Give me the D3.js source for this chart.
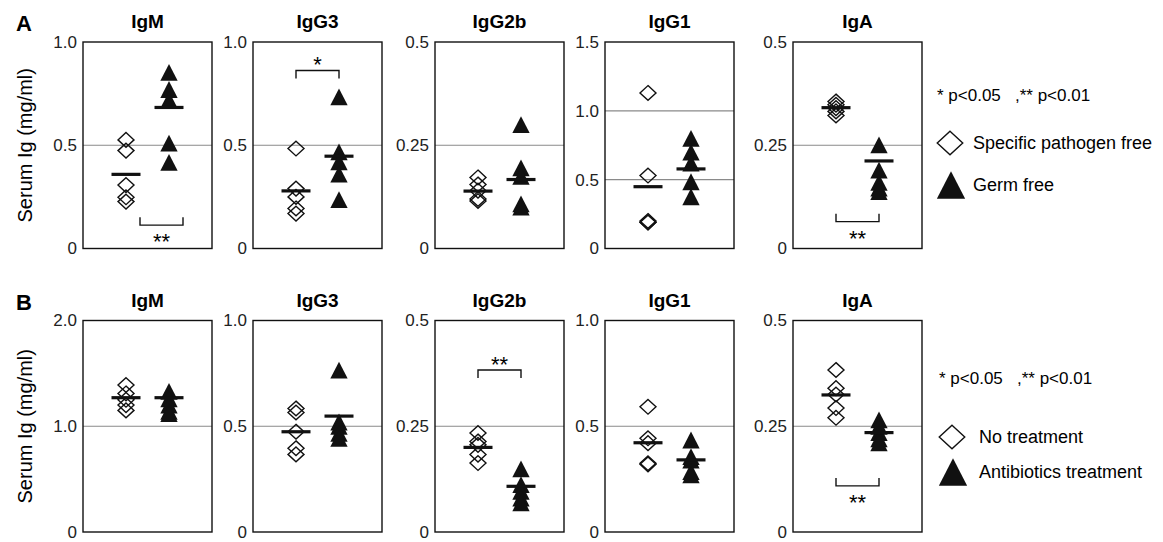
<!DOCTYPE html>
<html>
<head>
<meta charset="utf-8">
<script src="https://cdn.jsdelivr.net/npm/d3@7"></script>
<style>
body { margin: 0; background: #fff; }
svg { display: block; font-family: "Liberation Sans", Arial, Helvetica, sans-serif; }
</style>
</head>
<body>
<div id="chart"></div>
<script>
// ---- data ----
const isotypes = ["IgM", "IgG3", "IgG2b", "IgG1", "IgA"];
const groupsA = ["Specific pathogen free", "Germ free"];
const groupsB = ["No treatment", "Antibiotics treatment"];
const pNote = "* p<0.05   ,** p<0.01";

const yMaxA = [1.0, 1.0, 0.5, 1.5, 0.5];
const yMaxB = [2.0, 1.0, 0.5, 1.0, 0.5];
const ticksA = [[0, 0.5, 1.0], [0, 0.5, 1.0], [0, 0.25, 0.5], [0, 0.5, 1.0, 1.5], [0, 0.25, 0.5]];
const ticksB = [[0, 1.0, 2.0], [0, 0.5, 1.0], [0, 0.25, 0.5], [0, 0.5, 1.0], [0, 0.25, 0.5]];
const tickLabelsA = [["0", "0.5", "1.0"], ["0", "0.5", "1.0"], ["0", "0.25", "0.5"], ["0", "0.5", "1.0", "1.5"], ["0", "0.25", "0.5"]];
const tickLabelsB = [["0", "1.0", "2.0"], ["0", "0.5", "1.0"], ["0", "0.25", "0.5"], ["0", "0.5", "1.0"], ["0", "0.25", "0.5"]];

// A: specific pathogen free vs germ free
const spfA = [
    [0.526, 0.474, 0.307, 0.248, 0.227],
    [0.484, 0.29, 0.25, 0.194, 0.169],
    [0.172, 0.155, 0.14, 0.12, 0.115],
    [1.13, 0.53, 0.20, 0.19, 0.19],
    [0.356, 0.348, 0.34, 0.332, 0.322]
];
const gfA = [
    [0.853, 0.77, 0.72, 0.51, 0.417],
    [0.734, 0.468, 0.42, 0.36, 0.237],
    [0.30, 0.195, 0.175, 0.108, 0.10],
    [0.80, 0.70, 0.62, 0.485, 0.376],
    [0.251, 0.19, 0.16, 0.146, 0.138]
];
const spfMeanA = [0.359, 0.279, 0.139, 0.449, 0.341];
const gfMeanA = [0.683, 0.447, 0.167, 0.578, 0.212];

// B: no treatment vs antibiotics treatment
const ntB = [
    [1.39, 1.31, 1.25, 1.2, 1.15],
    [0.584, 0.565, 0.474, 0.396, 0.367],
    [0.234, 0.214, 0.206, 0.183, 0.163],
    [0.592, 0.443, 0.42, 0.325, 0.32],
    [0.383, 0.34, 0.325, 0.293, 0.27]
];
const abB = [
    [1.33, 1.26, 1.2, 1.14, 1.12],
    [0.765, 0.52, 0.5, 0.466, 0.443],
    [0.149, 0.112, 0.096, 0.08, 0.069],
    [0.435, 0.356, 0.34, 0.286, 0.27],
    [0.265, 0.25, 0.235, 0.22, 0.211]
];
const ntMeanB = [1.27, 0.474, 0.2, 0.422, 0.324];
const abMeanB = [1.27, 0.548, 0.108, 0.341, 0.235];

// significance brackets: panel index, level (data units), stars, side of the stars
const sigA = [
    { panel: 0, y: 0.113, stars: "**", side: "below" },
    { panel: 1, y: 0.862, stars: "*", side: "above" },
    { panel: 4, y: 0.065, stars: "**", side: "below" }
];
const sigB = [
    { panel: 2, y: 0.383, stars: "**", side: "above" },
    { panel: 4, y: 0.109, stars: "**", side: "below" }
];

// ---- layout ----
const W = 1163, H = 542;
const panelLefts = [83, 253, 435, 605, 793];
const panelW = 129;
const rows = [
    { letter: "A", top: 42, bottom: 248.5, yMax: yMaxA, ticks: ticksA, labels: tickLabelsA,
      g1: spfA, g2: gfA, m1: spfMeanA, m2: gfMeanA, sig: sigA, groups: groupsA,
      legend: { x: 937, note: 95, diamond: 143, tri: 185, textX: 973 },
      bracketShift: [14, 0, 0, 0, 0] },
    { letter: "B", top: 320.5, bottom: 532, yMax: yMaxB, ticks: ticksB, labels: tickLabelsB,
      g1: ntB, g2: abB, m1: ntMeanB, m2: abMeanB, sig: sigB, groups: groupsB,
      legend: { x: 939, note: 378, diamond: 437, tri: 472, textX: 979 },
      bracketShift: [0, 0, 0, 0, 0] }
];

const diamondType = {
    draw(ctx, size) {
        const r = Math.sqrt(size) / 2;
        ctx.moveTo(0, -r * 0.92); ctx.lineTo(r, 0); ctx.lineTo(0, r * 0.92); ctx.lineTo(-r, 0); ctx.closePath();
    }
};
const triType = {
    draw(ctx, size) {
        const s = Math.sqrt(size), h = s * 0.97;
        ctx.moveTo(0, -h / 2); ctx.lineTo(s / 2, h / 2); ctx.lineTo(-s / 2, h / 2); ctx.closePath();
    }
};

const svg = d3.select("#chart").append("svg")
    .attr("width", W)
    .attr("height", H);

rows.forEach(row => {
    // panel letter
    svg.append("text")
        .attr("x", 16)
        .attr("y", row.top - 11)
        .style("font-size", "22px")
        .style("font-weight", "bold")
        .text(row.letter);

    // y label
    svg.append("text")
        .attr("transform", `translate(32, ${(row.top + row.bottom) / 2}) rotate(-90)`)
        .attr("text-anchor", "middle")
        .style("font-size", "20px")
        .text("Serum Ig (mg/ml)");

    isotypes.forEach((iso, i) => {
        const g = svg.append("g")
            .attr("transform", `translate(${panelLefts[i]}, ${row.top})`);
        const h = row.bottom - row.top;

        const y = d3.scaleLinear().domain([0, row.yMax[i]]).range([h, 0]);
        const x = d3.scalePoint().domain(row.groups).range([0, panelW]).padding(1);

        // gridlines at inner ticks
        g.selectAll(".grid")
            .data(row.ticks[i].filter(t => t > 0 && t < row.yMax[i]))
            .enter()
            .append("line")
            .attr("class", "grid")
            .attr("x1", 0)
            .attr("x2", panelW)
            .attr("y1", d => y(d))
            .attr("y2", d => y(d))
            .attr("stroke", "#8a8a8a")
            .attr("stroke-width", 1.2);

        // axis labels
        const labels = row.labels[i];
        const ax = g.append("g")
            .call(d3.axisLeft(y)
                .tickValues(row.ticks[i])
                .tickFormat((d, k) => labels[k])
                .tickSize(0)
                .tickPadding(6));
        ax.select(".domain").remove();
        ax.selectAll("text")
            .style("font-size", "17px")
            .style("font-family", "\"Liberation Sans\", Arial, sans-serif")
            .attr("fill", "#222");

        // frame
        g.append("rect")
            .attr("x", 0)
            .attr("y", 0)
            .attr("width", panelW)
            .attr("height", h)
            .attr("fill", "none")
            .attr("stroke", "#111")
            .attr("stroke-width", 1.4);

        // title
        g.append("text")
            .attr("x", panelW / 2)
            .attr("y", -14)
            .attr("text-anchor", "middle")
            .style("font-size", "19px")
            .style("font-weight", "bold")
            .text(iso);

        // points
        g.selectAll(".g1")
            .data(row.g1[i])
            .enter()
            .append("path")
            .attr("class", "g1")
            .attr("transform", d => `translate(${x(row.groups[0])}, ${y(d)})`)
            .attr("d", d3.symbol().type(diamondType).size(256))
            .attr("fill", "none")
            .attr("stroke", "#111")
            .attr("stroke-width", 1.4);

        g.selectAll(".g2")
            .data(row.g2[i])
            .enter()
            .append("path")
            .attr("class", "g2")
            .attr("transform", d => `translate(${x(row.groups[1])}, ${y(d)})`)
            .attr("d", d3.symbol().type(triType).size(300))
            .attr("fill", "#111");

        // mean bars
        g.selectAll(".mean")
            .data([[row.groups[0], row.m1[i]], [row.groups[1], row.m2[i]]])
            .enter()
            .append("line")
            .attr("class", "mean")
            .attr("x1", d => x(d[0]) - 14.5)
            .attr("x2", d => x(d[0]) + 14.5)
            .attr("y1", d => y(d[1]))
            .attr("y2", d => y(d[1]))
            .attr("stroke", "#111")
            .attr("stroke-width", 3.2);

        // significance brackets
        row.sig.filter(s => s.panel === i).forEach(s => {
            const shift = row.bracketShift[i];
            const x1 = x(row.groups[0]) + shift, x2 = x(row.groups[1]) + shift;
            const yl = y(s.y);
            const tick = s.side === "below" ? -8 : 8;
            g.append("path")
                .attr("d", `M${x1},${yl + tick}V${yl}H${x2}V${yl + tick}`)
                .attr("fill", "none")
                .attr("stroke", "#111")
                .attr("stroke-width", 1.4);
            const starY = s.side === "below" ? yl + 11.5 : yl - 10.5;
            g.append("text")
                .attr("x", (x1 + x2) / 2)
                .attr("y", starY + 12.5)
                .attr("text-anchor", "middle")
                .style("font-size", "22px")
                .text(s.stars);
        });
    });

    // legend
    const lg = row.legend;
    svg.append("text")
        .attr("x", lg.x)
        .attr("y", lg.note + 6)
        .style("font-size", "17px")
        .style("white-space", "pre")
        .text(pNote);

    svg.append("path")
        .attr("transform", `translate(${lg.x + 13}, ${lg.diamond})`)
        .attr("d", d3.symbol().type(diamondType).size(650))
        .attr("fill", "none")
        .attr("stroke", "#111")
        .attr("stroke-width", 1.4);

    svg.append("path")
        .attr("transform", `translate(${lg.x + 14}, ${lg.tri})`)
        .attr("d", d3.symbol().type(triType).size(800))
        .attr("fill", "#111");

    svg.selectAll(null)
        .data(row.groups)
        .enter()
        .append("text")
        .attr("x", lg.textX)
        .attr("y", (d, k) => (k === 0 ? lg.diamond : lg.tri) + 6)
        .style("font-size", "18px")
        .text(d => d);
});
</script>
</body>
</html>
